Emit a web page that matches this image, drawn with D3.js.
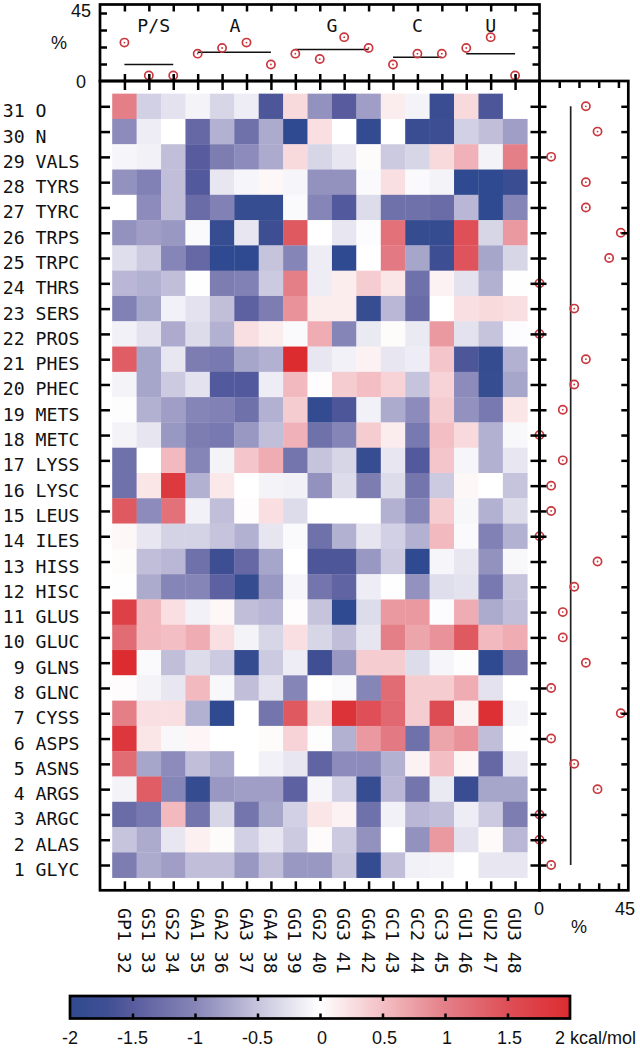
<!DOCTYPE html>
<html>
<meta charset="utf-8">

<head>
    <style>
        body { margin: 0; background: #fff; }
        text { fill: #111; }
        .mono { font: 18.2px "DejaVu Sans Mono", monospace; white-space: pre; }
        .sans { font: 18px "Liberation Sans", Arial, sans-serif; }
        .axis path { display: none; }
        .axis line { stroke: #000; stroke-width: 2.5px; }
    </style>
</head>

<body>
    <div id="chart"></div>
    <script src="https://d3js.org/d3.v7.min.js"></script>

    <script>
        // row labels, top row first
        const rowLabels = ["31 O", "30 N", "29 VALS", "28 TYRS", "27 TYRC", "26 TRPS", "25 TRPC", "24 THRS",
            "23 SERS", "22 PROS", "21 PHES", "20 PHEC", "19 METS", "18 METC", "17 LYSS", "16 LYSC", "15 LEUS",
            "14 ILES", "13 HISS", "12 HISC", "11 GLUS", "10 GLUC", " 9 GLNS", " 8 GLNC", " 7 CYSS", " 6 ASPS",
            " 5 ASNS", " 4 ARGS", " 3 ARGC", " 2 ALAS", " 1 GLYC"];
        const colLabels = ["GP1 32", "GS1 33", "GS2 34", "GA1 35", "GA2 36", "GA3 37", "GA4 38", "GG1 39", "GG2 40",
            "GG3 41", "GG4 42", "GC1 43", "GC2 44", "GC3 45", "GU1 46", "GU2 47", "GU3 48"];

        // kcal/mol. same order as rowLabels
        const energies = [
            [1.0, -0.4, -0.25, -0.1, -0.35, -0.15, -1.6, 0.3, -0.9, -1.5, -0.8, 0.15, -0.1, -1.8, 0.3, -1.6, 0],
            [-0.95, -0.15, 0, -1.35, -0.65, -1.25, -0.7, -2, 0.25, 0, -1.95, 0, -1.8, -1.75, -0.4, -0.55, -0.8],
            [-0.08, -0.12, -0.55, -1.5, -1.1, -0.95, -0.7, 0.3, -0.35, -0.2, 0.03, -0.45, -0.35, 0.3, 0.6, -0.1, 1.0],
            [-0.9, -1.05, -0.55, -1.55, -0.2, -0.08, 0.06, -0.08, -0.9, -0.9, -0.04, 0.25, -0.04, -0.1, -2, -2, -1.8],
            [0, -0.95, -0.55, -1.3, -1.05, -1.85, -1.85, -0.04, -1.0, -1.55, -0.3, -1.25, -1.25, -1.3, -0.6, -2, -1.0],
            [-0.9, -0.8, -0.85, -0.04, -1.85, -0.2, -1.75, 1.4, 0, -0.2, -0.03, 1.15, -1.9, -1.9, 1.5, -0.35, 0.8],
            [-0.28, -0.45, -1.0, -1.35, -2, -2, -0.5, -1.0, -0.15, -2, 0, 1.05, -0.75, -1.75, 1.45, -0.75, -0.35],
            [-0.6, -0.65, -0.55, -0.01, -1.1, -1.05, -0.45, 1.0, -0.15, 0.15, 0.4, 0.2, -1.25, 0.1, -0.25, -0.65, -0.01],
            [-1.05, -0.75, -0.12, -0.25, -0.55, -1.45, -1.1, 0.85, 0.15, 0.15, -1.85, -0.6, -1.3, 0, 0.25, 0.3, 0.25],
            [-0.12, -0.25, -0.7, -0.3, -0.65, 0.25, 0.15, -0.04, 0.65, -1.0, -0.18, 0.03, -0.18, 0.8, -0.25, -0.5, -0.03],
            [1.35, -0.75, -0.2, -1.1, -1.15, -0.75, -0.65, 2, -0.2, -0.12, 0.1, -0.2, -0.15, 0.45, -1.6, -1.9, -0.65],
            [-0.1, -0.75, -0.45, -0.25, -1.55, -1.55, -0.15, 0.55, 0.02, 0.4, 0.5, 0.35, -0.5, 0.35, -0.95, -1.85, -0.75],
            [-0.02, -0.65, -0.8, -1.0, -1.05, -1.25, -0.65, 0.4, -1.95, -1.6, -0.12, -0.7, -0.95, 0.4, -0.9, -1.15, 0.2],
            [-0.1, -0.22, -0.85, -1.1, -1.15, -0.85, -0.55, 0.6, -1.25, -1.0, 0.4, 0.15, -1.15, 0.5, 0.3, -0.65, -0.06],
            [-1.25, 0, 0.55, -1.0, -0.1, 0.45, 0.65, -1.2, -0.5, -0.35, -1.85, -0.2, -1.55, 0.45, -0.08, -0.65, -0.2],
            [-1.25, 0.2, 1.8, -0.65, 0.18, 0, -0.1, -0.12, -0.9, -0.3, -1.1, -0.3, -1.2, -0.45, 0.06, 0, -0.5],
            [1.4, -0.95, 1.15, -0.12, -0.55, 0.02, 0.25, -0.3, 0, 0, 0, -0.65, -1.0, 0.4, -0.07, -0.65, -0.3],
            [0.06, -0.2, -0.38, -0.38, -0.5, -0.65, -0.22, -0.04, -1.25, -0.65, -0.22, -0.4, -0.65, 0.55, -0.04, -1.05, -0.65],
            [0.03, -0.55, -0.6, -1.25, -1.75, -1.35, -0.75, 0, -1.6, -1.6, -0.85, -0.45, -2, -0.08, -0.2, -0.9, -0.06],
            [-0.01, -0.7, -1.0, -1.0, -1.45, -1.9, -0.85, -0.08, -1.2, -1.4, -0.15, -0.01, -0.9, -0.28, -0.25, -1.15, -0.5],
            [1.7, 0.55, 0.25, -0.12, 0.06, -0.55, -0.6, 0.02, -0.5, -2, -0.3, 0.8, 0.8, -0.03, 0.65, -0.7, -0.55],
            [1.2, 0.55, 0.5, 0.65, 0.25, -0.1, -0.35, 0.25, -0.35, -0.55, -0.22, 1.0, 0.7, 0.85, 1.4, 0.55, 0.65],
            [2, -0.04, -0.55, -0.3, -0.45, -1.9, -0.45, -0.15, -1.7, -0.85, 0.4, 0.4, -0.3, -0.08, -0.02, -2, -1.2],
            [0.02, -0.1, -0.2, 0.55, -0.06, -0.55, -0.25, -1.0, 0, -0.04, -1.0, 1.2, 0.4, 0.4, 0.65, -0.25, 0],
            [1.0, 0.25, 0.25, -0.65, -2, 0, -1.2, 1.4, 0.3, 1.9, 1.5, 1.25, 0.4, 1.55, 0.1, 1.95, -0.1],
            [1.85, 0.2, -0.06, 0.08, 0, 0, 0.03, 0.35, -0.02, -0.65, 0.8, 1.05, -1.25, 0.7, 0.85, -0.55, -0.01],
            [1.2, -0.75, -0.95, -0.55, -0.7, 0, -0.12, -0.2, -1.4, -0.95, -0.95, -0.65, 0.1, 0.5, 0.08, -1.35, -0.2],
            [-0.1, 1.35, -1.0, -1.9, -0.85, -0.8, -0.8, -1.45, -0.08, -0.4, -1.85, -0.6, -1.2, -0.18, -1.8, -0.75, -0.75],
            [-1.3, -1.15, 0.55, -1.2, -0.35, -1.2, -0.75, -0.4, 0.2, 0.1, -1.25, -0.12, -0.6, -0.55, -0.15, -0.45, -1.1],
            [-0.5, -0.7, -0.2, 0.12, 0.03, -0.4, -0.2, -0.45, 0.03, -0.45, -0.9, 0, -0.9, 0.8, -0.25, 0.04, -0.6],
            [-1.1, -0.7, -0.8, -0.55, -0.55, -0.85, -0.55, -0.85, -0.85, -0.5, -1.9, -0.55, -0.12, -0.1, 0, -0.2, -0.2]
        ];

        // % per column (top strip) and per row (right strip)
        const colPercent = [22.6, 3.2, 3.2, 16.1, 19.4, 22.6, 9.7, 16.1, 12.9, 25.8, 19.4, 9.7, 16.1, 16.1, 19.4, 25.8, 3.2];
        const rowPercent = [23.5, 29.4, 5.9, 23.5, 23.5, 41.2, 35.3, 0, 17.6, 0, 23.5, 17.6, 11.8, 0, 11.8, 5.9, 5.9,
            0, 29.4, 17.6, 11.8, 11.8, 23.5, 5.9, 41.2, 5.9, 17.6, 29.4, 0, 0, 5.9];

        // nucleotide groups: name, first and last column, mean %
        const groupNames = ["P/S", "A", "G", "C", "U"];
        const groupFirst = [1, 4, 8, 12, 15];
        const groupLast = [3, 7, 11, 14, 17];
        const groupMean = [9.7, 16.9, 18.5, 14.0, 16.1];
        const groupLabelAt = [2.2, 5.53, 9.5, 13, 16];
        const rowMean = 15.8;

        const colorValues = [-2, -1.7, -1.5, -1, -0.5, 0, 0.5, 1, 1.5, 2];
        const colorRange = ["#2f4a90", "#404f94", "#585c9e", "#8685b7", "#c6c4dd", "#ffffff", "#f3bfc4", "#e47f88", "#de4f57", "#dc2c30"];
        const barTicks = [-1.5, -1, -0.5, 0, 0.5, 1, 1.5];
        const barLabels = [-2, -1.5, -1, -0.5, 0, 0.5, 1, 1.5];

        const leftEdge = 100, rightEdge = 539.5, topEdge = 4.5, midEdge = 81, bottomEdge = 890.3, farEdge = 628.3;

        // set the ranges
        const x = d3.scaleLinear().domain([0, 18]).range([leftEdge, rightEdge]);
        const y = d3.scaleLinear().domain([0, 32]).range([bottomEdge, midEdge]);
        const topY = d3.scaleLinear().domain([0, 45]).range([midEdge, topEdge]);
        const rightX = d3.scaleLinear().domain([0, 45]).range([rightEdge, farEdge]);
        const barX = d3.scaleLinear().domain([-2, 2]).range([70, 570]);
        const color = d3.scaleLinear().domain(colorValues).range(colorRange);

        const cols = d3.range(1, 18);
        const rows = rowLabels.map(function (d) { return +d.slice(0, 2); });
        const pctTicks = [10, 20, 30, 40];

        const svg = d3.select("#chart")
            .append("svg")
            .attr("width", 640)
            .attr("height", 1048);

        // heat map cells
        energies.forEach(function (row, i) {
            svg.append("g")
                .selectAll("rect")
                .data(row)
                .join("rect")
                .attr("x", function (d, j) { return x(j + 0.5); })
                .attr("width", x(1) - x(0) + 0.3)
                .attr("y", y(rows[i] + 0.5))
                .attr("height", y(0) - y(1) + 0.3)
                .attr("fill", function (d) { return color(d); });
        });

        // mean lines
        svg.append("g")
            .selectAll("line")
            .data(groupMean)
            .join("line")
            .attr("x1", function (d, i) { return x(groupFirst[i]); })
            .attr("x2", function (d, i) { return x(groupLast[i]); })
            .attr("y1", function (d) { return topY(d); })
            .attr("y2", function (d) { return topY(d); })
            .attr("stroke", "#111")
            .attr("stroke-width", 1.5);

        svg.append("line")
            .attr("x1", rightX(rowMean))
            .attr("x2", rightX(rowMean))
            .attr("y1", y(31))
            .attr("y2", y(1))
            .attr("stroke", "#222")
            .attr("stroke-width", 1.7);

        // red ring markers with a dot in the middle
        function rings(points) {
            const g = svg.append("g");
            g.selectAll("circle.ring")
                .data(points)
                .join("circle")
                .attr("class", "ring")
                .attr("cx", function (d) { return d[0]; })
                .attr("cy", function (d) { return d[1]; })
                .attr("r", 4.1)
                .attr("fill", "none")
                .attr("stroke", "#c9383e")
                .attr("stroke-width", 1.7);
            g.selectAll("circle.dot")
                .data(points)
                .join("circle")
                .attr("class", "dot")
                .attr("cx", function (d) { return d[0]; })
                .attr("cy", function (d) { return d[1]; })
                .attr("r", 0.9)
                .attr("fill", "#c9383e");
        }
        rings(colPercent.map(function (d, i) { return [x(i + 1), topY(d)]; }));
        rings(rowPercent.map(function (d, i) { return [rightX(d), y(rows[i])]; }));

        // tick marks, all drawn through d3 axes with the labels blanked
        function ticks(axis, scale, values, size, tx, ty) {
            svg.append("g")
                .attr("class", "axis")
                .attr("transform", "translate(" + tx + "," + ty + ")")
                .call(axis(scale).tickValues(values).tickSize(size).tickFormat(""));
        }
        // top strip
        ticks(d3.axisTop, x, cols, -7, 0, topEdge);
        ticks(d3.axisTop, x, cols, 7, 0, midEdge);
        ticks(d3.axisLeft, topY, pctTicks, -7, leftEdge, 0);
        ticks(d3.axisLeft, topY, pctTicks, 7, rightEdge, 0);
        // heat map
        ticks(d3.axisTop, x, cols, -9, 0, midEdge);
        ticks(d3.axisTop, x, cols, 9, 0, bottomEdge);
        ticks(d3.axisLeft, y, rows, -10, leftEdge, 0);
        ticks(d3.axisLeft, y, rows, 9, rightEdge, 0);
        // right strip
        ticks(d3.axisLeft, y, rows, -7, rightEdge, 0);
        ticks(d3.axisLeft, y, rows, 7, farEdge, 0);
        ticks(d3.axisTop, rightX, pctTicks, -7, 0, midEdge);
        ticks(d3.axisTop, rightX, pctTicks, 7, 0, bottomEdge);

        // frames
        function frame(x1, y1, x2, y2) {
            svg.append("rect")
                .attr("x", x1)
                .attr("y", y1)
                .attr("width", x2 - x1)
                .attr("height", y2 - y1)
                .attr("fill", "none")
                .attr("stroke", "#000")
                .attr("stroke-width", 2.7);
        }
        frame(leftEdge, topEdge, rightEdge, midEdge);
        frame(leftEdge, midEdge, rightEdge, bottomEdge);
        frame(rightEdge, midEdge, farEdge, bottomEdge);

        // row and column labels
        svg.append("g")
            .selectAll("text")
            .data(rowLabels)
            .join("text")
            .attr("class", "mono")
            .attr("x", 2.7)
            .attr("y", function (d, i) { return y(rows[i]) + 11; })
            .text(function (d) { return d; });

        svg.append("g")
            .selectAll("text")
            .data(colLabels)
            .join("text")
            .attr("class", "mono")
            .attr("transform", function (d, i) { return "translate(" + (x(i + 1) - 6.9) + ",908) rotate(90)"; })
            .text(function (d) { return d; });

        svg.append("g")
            .selectAll("text")
            .data(groupNames)
            .join("text")
            .attr("class", "mono")
            .attr("text-anchor", "middle")
            .attr("x", function (d, i) { return x(groupLabelAt[i]); })
            .attr("y", 32)
            .text(function (d) { return d; });

        // strip axis labels
        function label(str, px, py) {
            svg.append("text")
                .attr("class", "sans")
                .attr("text-anchor", "middle")
                .attr("x", px)
                .attr("y", py)
                .text(str);
        }
        label("45", 81, 17);
        label("0", 81, 88);
        label("%", 59, 49);
        label("0", 539, 915);
        label("45", 625, 915);
        label("%", 579, 933);

        // colour bar
        const grad = svg.append("defs")
            .append("linearGradient")
            .attr("id", "barFill");
        grad.selectAll("stop")
            .data(colorValues)
            .join("stop")
            .attr("offset", function (d) { return (d + 2) / 4; })
            .attr("stop-color", function (d) { return color(d); });

        svg.append("rect")
            .attr("x", barX(-2))
            .attr("y", 996)
            .attr("width", barX(2) - barX(-2))
            .attr("height", 22.5)
            .attr("fill", "url(#barFill)");
        ticks(d3.axisTop, barX, barTicks, -5, 0, 996);
        ticks(d3.axisTop, barX, barTicks, 5, 0, 1018.5);
        frame(barX(-2), 996, barX(2), 1018.5);

        svg.append("g")
            .selectAll("text")
            .data(barLabels)
            .join("text")
            .attr("class", "sans")
            .attr("text-anchor", "middle")
            .attr("x", function (d) { return barX(d) + (d >= 0 ? 2 : 0); })
            .attr("y", 1043.5)
            .text(function (d) { return d; });

        svg.append("text")
            .attr("class", "sans")
            .attr("x", 555)
            .attr("y", 1043.5)
            .text("2 kcal/mol");
    </script>

</body>

</html>
